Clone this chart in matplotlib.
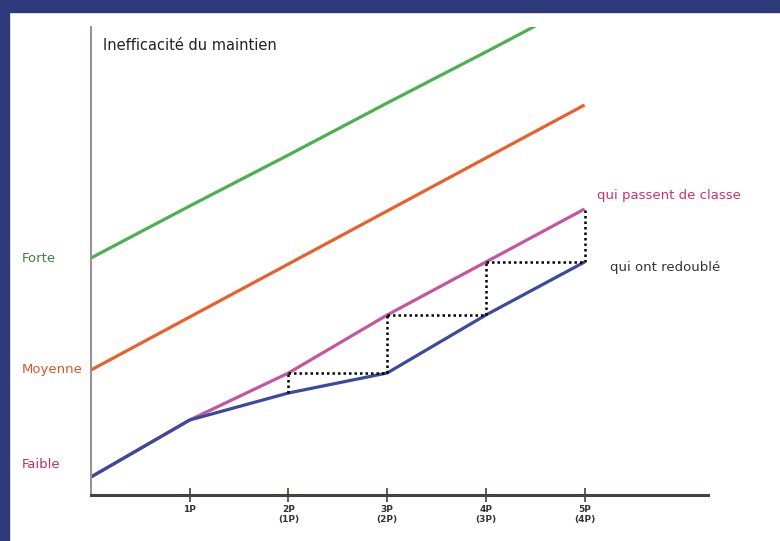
import matplotlib
matplotlib.use('Agg')
import matplotlib.pyplot as plt
import matplotlib.transforms as mtransforms
from matplotlib.patches import Rectangle

# grade positions and tick labels
grades = [0, 1, 2, 3, 4, 5]
tick_pos = [1, 2, 3, 4, 5]
tick_labels = ['1P', '2P\n(1P)', '3P\n(2P)', '4P\n(3P)', '5P\n(4P)']

# level lines (arbitrary units)
forte = [237, 289, 340, 392, 443, 495]
moyenne = [125, 178, 231, 284, 337, 390]
# weak pupils: promoted vs held back
passent = [18, 75, 122, 180, 233, 286]
redouble = [18, 75, 102, 122, 180, 233]

W, H = 780, 541
fig = plt.figure(figsize=(W / 100, H / 100), dpi=100)
fig.patch.set_facecolor('white')

# navy frame on top and left
navy = '#2c3a7a'
fig.patches.append(Rectangle((0, 1 - 12 / H), 1, 12 / H, transform=fig.transFigure, color=navy, zorder=0))
fig.patches.append(Rectangle((0, 0), 9 / W, 1, transform=fig.transFigure, color=navy, zorder=0))

ax = fig.add_axes([91 / W, 46 / H, 617 / W, 468 / H])
ax.set_xlim(0, 6.25)
ax.set_ylim(0, 468)

ax.plot(grades, forte, color='#4caf50', lw=2.3, solid_capstyle='butt')
ax.plot(grades, moyenne, color='#e8602a', lw=2.3, solid_capstyle='butt')
ax.plot(grades, passent, color='#c4559f', lw=2.3, solid_capstyle='butt')
ax.plot(grades, redouble, color='#3b4a9c', lw=2.3, solid_capstyle='butt')

# dotted staircase between the two weak lines
for k in range(2, 6):
    ax.plot([grades[k], grades[k]], [redouble[k], passent[k]], color='black', lw=1.8, ls=(0, (1, 1.2)))
for k in range(2, 5):
    ax.plot([grades[k], grades[k + 1]], [passent[k], redouble[k + 1]], color='black', lw=1.8, ls=(0, (1, 1.2)))

for s in ['top', 'right']:
    ax.spines[s].set_visible(False)
ax.spines['left'].set_color('#9a9095')
ax.spines['left'].set_linewidth(1.5)
ax.spines['bottom'].set_color('#4a4040')
ax.spines['bottom'].set_linewidth(2.2)

ax.set_yticks([])
ax.set_xticks(tick_pos)
ax.set_xticklabels(tick_labels, fontsize=6.5, color='#333333', fontweight='bold')
ax.tick_params(axis='x', direction='inout', length=10, width=1.2, color='#4a4040', pad=2)

trans = mtransforms.blended_transform_factory(ax.transAxes, ax.transData)
ax.text(-0.112, forte[0], 'Forte', transform=trans, fontsize=9.5, color='#3f7f3f', va='center', ha='left')
ax.text(-0.112, moyenne[0], 'Moyenne', transform=trans, fontsize=9.5, color='#d0582a', va='center', ha='left')
ax.text(-0.112, passent[0] + 12, 'Faible', transform=trans, fontsize=9.5, color='#c0305e', va='center', ha='left')

ax.text(5.13, passent[-1] + 14, 'qui passent de classe', fontsize=9.5, color='#d0306a', va='center', ha='left')
ax.text(5.26, redouble[-1] - 6, 'qui ont redoublé', fontsize=9.5, color='#333333', va='center', ha='left')

ax.text(0.02, 450, 'Inefficacité du maintien', transform=trans, fontsize=10.5, color='#222222', va='center', ha='left')

fig.savefig('out.png', dpi=100)
